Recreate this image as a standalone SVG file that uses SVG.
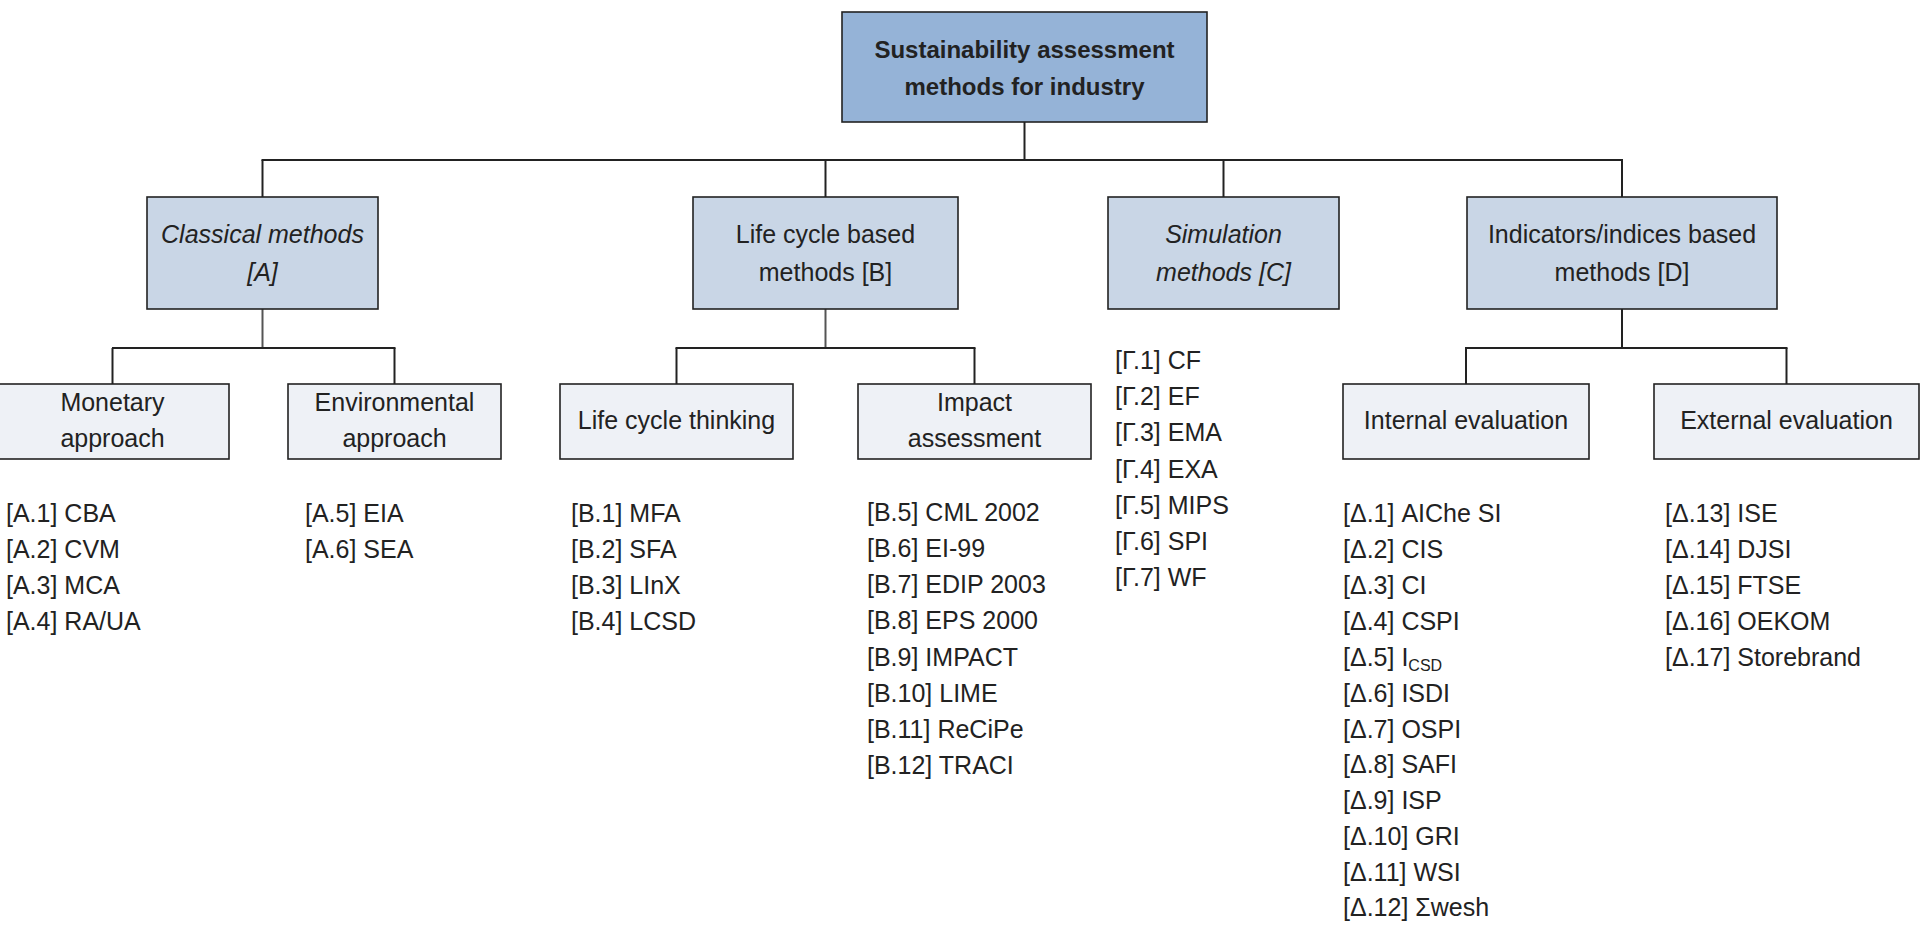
<svg xmlns="http://www.w3.org/2000/svg" width="1920" height="926" viewBox="0 0 1920 926">
<style>
text{font-family:"Liberation Sans",Arial,sans-serif;fill:#222;}
.box{stroke:#222;stroke-width:1.6;}
.top{fill:#95B3D7;}
.l1{fill:#C9D6E6;}
.l2{fill:#EEF1F6;}
.lbl{font-size:25px;text-anchor:middle;}
.it{font-style:italic;}
.bold{font-weight:bold;font-size:24px;text-anchor:middle;}
.lst{font-size:25px;}
.conn line{stroke:#222;stroke-width:2;}
.conn line.g{stroke:#555;}
</style>
<rect width="1920" height="926" fill="#fff"/>
<g class="conn" id="connectors">
<line x1="1024.5" y1="122" x2="1024.5" y2="160"/>
<line x1="261.5" y1="160" x2="1623" y2="160"/>
<line x1="262.5" y1="160" x2="262.5" y2="197"/>
<line x1="825.5" y1="160" x2="825.5" y2="197"/>
<line x1="1223.5" y1="160" x2="1223.5" y2="197"/>
<line x1="1622" y1="160" x2="1622" y2="197"/>
<line class="g" x1="262.5" y1="309" x2="262.5" y2="348"/>
<line x1="112" y1="348" x2="395.5" y2="348"/>
<line x1="112.5" y1="348" x2="112.5" y2="384"/>
<line x1="394.5" y1="348" x2="394.5" y2="384"/>
<line class="g" x1="825.5" y1="309" x2="825.5" y2="348"/>
<line x1="675.5" y1="348" x2="975.5" y2="348"/>
<line x1="676.5" y1="348" x2="676.5" y2="384"/>
<line x1="974.5" y1="348" x2="974.5" y2="384"/>
<line x1="1622" y1="309" x2="1622" y2="348"/>
<line x1="1465" y1="348" x2="1787.5" y2="348"/>
<line x1="1466" y1="348" x2="1466" y2="384"/>
<line x1="1786.5" y1="348" x2="1786.5" y2="384"/>
</g>
<g id="root">
<rect class="box top" x="842" y="12" width="365" height="110"/>
<text class="bold" x="1024.5" y="58">Sustainability assessment</text>
<text class="bold" x="1024.5" y="95">methods for industry</text>
</g>
<g id="classical">
<rect class="box l1" x="147" y="197" width="231" height="112"/>
<text class="lbl it" x="262.5" y="243">Classical methods</text>
<text class="lbl it" x="262.5" y="281">[A]</text>
</g>
<g id="lifecycle">
<rect class="box l1" x="693" y="197" width="265" height="112"/>
<text class="lbl" x="825.5" y="243">Life cycle based</text>
<text class="lbl" x="825.5" y="281">methods [B]</text>
</g>
<g id="simulation">
<rect class="box l1" x="1108" y="197" width="231" height="112"/>
<text class="lbl it" x="1223.5" y="243">Simulation</text>
<text class="lbl it" x="1223.5" y="281">methods [C]</text>
</g>
<g id="indicators">
<rect class="box l1" x="1467" y="197" width="310" height="112"/>
<text class="lbl" x="1622" y="243">Indicators/indices based</text>
<text class="lbl" x="1622" y="281">methods [D]</text>
</g>
<g id="monetary">
<rect class="box l2" x="-4" y="384" width="233" height="75"/>
<text class="lbl" x="112.5" y="411">Monetary</text>
<text class="lbl" x="112.5" y="447">approach</text>
</g>
<g id="environmental">
<rect class="box l2" x="288" y="384" width="213" height="75"/>
<text class="lbl" x="394.5" y="411">Environmental</text>
<text class="lbl" x="394.5" y="447">approach</text>
</g>
<g id="lct">
<rect class="box l2" x="560" y="384" width="233" height="75"/>
<text class="lbl" x="676.5" y="429">Life cycle thinking</text>
</g>
<g id="impact">
<rect class="box l2" x="858" y="384" width="233" height="75"/>
<text class="lbl" x="974.5" y="411">Impact</text>
<text class="lbl" x="974.5" y="447">assessment</text>
</g>
<g id="internal">
<rect class="box l2" x="1343" y="384" width="246" height="75"/>
<text class="lbl" x="1466" y="429">Internal evaluation</text>
</g>
<g id="external">
<rect class="box l2" x="1654" y="384" width="265" height="75"/>
<text class="lbl" x="1786.5" y="429">External evaluation</text>
</g>
<g id="list-a1">
<text class="lst" x="6" y="522">[A.1] CBA</text>
<text class="lst" x="6" y="558">[A.2] CVM</text>
<text class="lst" x="6" y="594">[A.3] MCA</text>
<text class="lst" x="6" y="630">[A.4] RA/UA</text>
</g>
<g id="list-a2">
<text class="lst" x="305" y="522">[A.5] EIA</text>
<text class="lst" x="305" y="558">[A.6] SEA</text>
</g>
<g id="list-b1">
<text class="lst" x="571" y="522">[B.1] MFA</text>
<text class="lst" x="571" y="558">[B.2] SFA</text>
<text class="lst" x="571" y="594">[B.3] LInX</text>
<text class="lst" x="571" y="630">[B.4] LCSD</text>
</g>
<g id="list-b2">
<text class="lst" x="867" y="521">[B.5] CML 2002</text>
<text class="lst" x="867" y="557">[B.6] EI-99</text>
<text class="lst" x="867" y="593">[B.7] EDIP 2003</text>
<text class="lst" x="867" y="629">[B.8] EPS 2000</text>
<text class="lst" x="867" y="666">[B.9] IMPACT</text>
<text class="lst" x="867" y="702">[B.10] LIME</text>
<text class="lst" x="867" y="738">[B.11] ReCiPe</text>
<text class="lst" x="867" y="774">[B.12] TRACI</text>
</g>
<g id="list-c">
<text class="lst" x="1115" y="369">[Γ.1] CF</text>
<text class="lst" x="1115" y="405">[Γ.2] EF</text>
<text class="lst" x="1115" y="441">[Γ.3] EMA</text>
<text class="lst" x="1115" y="478">[Γ.4] EXA</text>
<text class="lst" x="1115" y="514">[Γ.5] MIPS</text>
<text class="lst" x="1115" y="550">[Γ.6] SPI</text>
<text class="lst" x="1115" y="586">[Γ.7] WF</text>
</g>
<g id="list-d1">
<text class="lst" x="1343" y="522">[Δ.1] AIChe SI</text>
<text class="lst" x="1343" y="558">[Δ.2] CIS</text>
<text class="lst" x="1343" y="594">[Δ.3] CI</text>
<text class="lst" x="1343" y="630">[Δ.4] CSPI</text>
<text class="lst" x="1343" y="666">[Δ.5] I<tspan font-size="16" dy="5">CSD</tspan></text>
<text class="lst" x="1343" y="702">[Δ.6] ISDI</text>
<text class="lst" x="1343" y="738">[Δ.7] OSPI</text>
<text class="lst" x="1343" y="773">[Δ.8] SAFI</text>
<text class="lst" x="1343" y="809">[Δ.9] ISP</text>
<text class="lst" x="1343" y="845">[Δ.10] GRI</text>
<text class="lst" x="1343" y="881">[Δ.11] WSI</text>
<text class="lst" x="1343" y="916">[Δ.12] Σwesh</text>
</g>
<g id="list-d2">
<text class="lst" x="1665" y="522">[Δ.13] ISE</text>
<text class="lst" x="1665" y="558">[Δ.14] DJSI</text>
<text class="lst" x="1665" y="594">[Δ.15] FTSE</text>
<text class="lst" x="1665" y="630">[Δ.16] OEKOM</text>
<text class="lst" x="1665" y="666">[Δ.17] Storebrand</text>
</g>
</svg>
